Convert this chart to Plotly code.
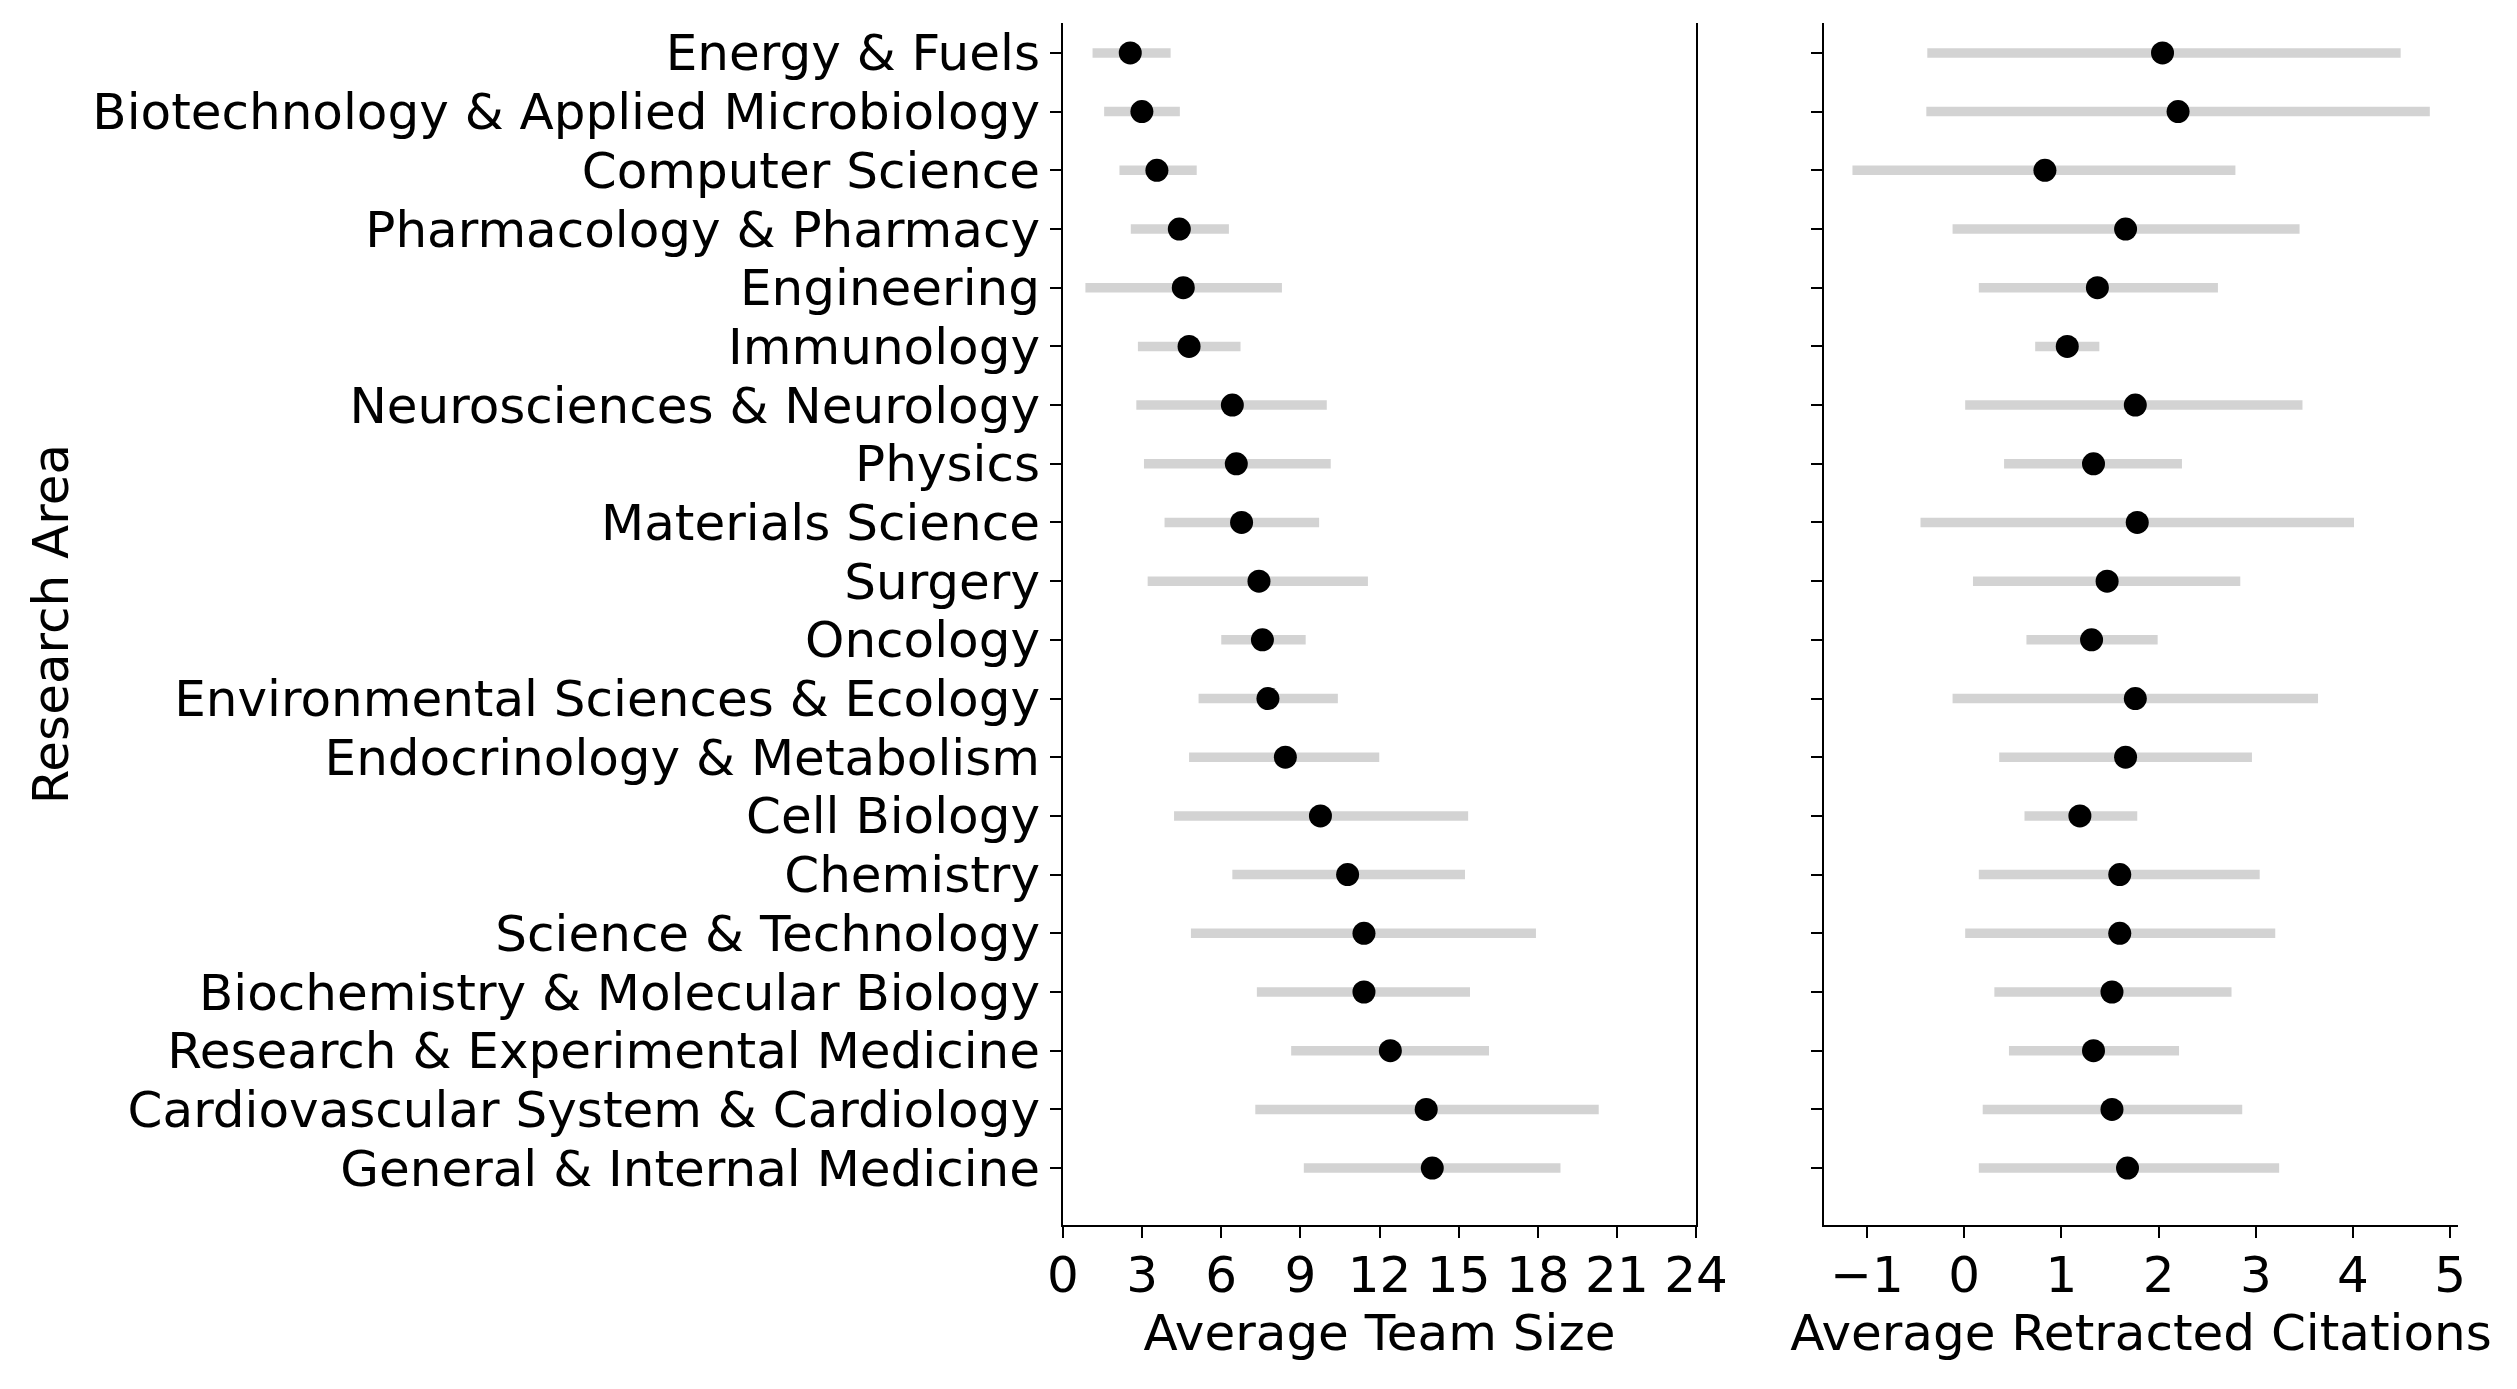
import plotly.graph_objects as go

# research areas, top to bottom
areas = [
    "Energy & Fuels",
    "Biotechnology & Applied Microbiology",
    "Computer Science",
    "Pharmacology & Pharmacy",
    "Engineering",
    "Immunology",
    "Neurosciences & Neurology",
    "Physics",
    "Materials Science",
    "Surgery",
    "Oncology",
    "Environmental Sciences & Ecology",
    "Endocrinology & Metabolism",
    "Cell Biology",
    "Chemistry",
    "Science & Technology",
    "Biochemistry & Molecular Biology",
    "Research & Experimental Medicine",
    "Cardiovascular System & Cardiology",
    "General & Internal Medicine",
]

# average team size with interval
team_mean = [2.55, 2.99, 3.56, 4.41, 4.56, 4.78, 6.42, 6.57, 6.77, 7.43,
             7.56, 7.77, 8.43, 9.76, 10.79, 11.41, 11.41, 12.41, 13.77, 14.0]
team_lo = [1.12, 1.56, 2.14, 2.57, 0.85, 2.84, 2.78, 3.07, 3.85, 3.21,
           6.0, 5.14, 4.78, 4.21, 6.42, 4.85, 7.35, 8.65, 7.29, 9.13]
team_hi = [4.08, 4.43, 5.07, 6.29, 8.30, 6.73, 10.0, 10.15, 9.71, 11.56,
           9.2, 10.42, 11.99, 15.36, 15.24, 17.93, 15.43, 16.15, 20.31, 18.86]

# average retracted citations with interval
cit_mean = [2.04, 2.20, 0.83, 1.66, 1.37, 1.06, 1.76, 1.33, 1.78, 1.47,
            1.31, 1.76, 1.66, 1.19, 1.60, 1.60, 1.52, 1.33, 1.52, 1.68]
cit_lo = [-0.38, -0.39, -1.15, -0.12, 0.15, 0.73, 0.01, 0.41, -0.45, 0.09,
          0.64, -0.12, 0.36, 0.62, 0.15, 0.01, 0.31, 0.46, 0.19, 0.15]
cit_hi = [4.49, 4.79, 2.79, 3.45, 2.61, 1.39, 3.48, 2.24, 4.01, 2.84,
          1.99, 3.64, 2.96, 1.78, 3.04, 3.20, 2.75, 2.21, 2.86, 3.24]

team_ticks = [0, 3, 6, 9, 12, 15, 18, 21, 24]
cit_ticks = [-1, 0, 1, 2, 3, 4, 5]

font = dict(family="DejaVu Sans", size=50, color="black")
bar_color = "#d3d3d3"


def segments(lo, hi):
    xs, ys = [], []
    for a, l, h in zip(areas, lo, hi):
        xs += [l, h, None]
        ys += [a, a, None]
    return xs, ys


fig = go.Figure()

for mean, lo, hi, xa, ya in [(team_mean, team_lo, team_hi, "x", "y"),
                             (cit_mean, cit_lo, cit_hi, "x2", "y2")]:
    xs, ys = segments(lo, hi)
    fig.add_trace(go.Scatter(
        x=xs, y=ys, mode="lines", xaxis=xa, yaxis=ya,
        line=dict(color=bar_color, width=9.5), hoverinfo="skip",
    ))
    fig.add_trace(go.Scatter(
        x=mean, y=areas, mode="markers", xaxis=xa, yaxis=ya,
        marker=dict(color="black", size=23, line=dict(width=0)),
    ))

axis_style = dict(
    showgrid=False, zeroline=False, showline=True, linecolor="black",
    linewidth=2, ticks="outside", ticklen=11, tickwidth=2,
    tickcolor="black", tickfont=font,
)

fig.update_layout(
    width=2517, height=1389,
    margin=dict(l=1063, r=59, t=23, b=164),
    plot_bgcolor="white", paper_bgcolor="white",
    showlegend=False, font=font,
    xaxis=dict(domain=[0, 0.4538], range=[0, 24], tickvals=team_ticks,
               ticklabelstandoff=-6,
               title=dict(text="Average Team Size", font=font, standoff=5),
               **axis_style),
    xaxis2=dict(domain=[0.5455, 1], range=[-1.443, 5.08], tickvals=cit_ticks,
                anchor="y2", ticklabelstandoff=-6,
                title=dict(text="Average Retracted Citations", font=font, standoff=5),
                **axis_style),
    yaxis=dict(categoryorder="array", categoryarray=areas,
               tickmode="array", tickvals=areas, ticktext=areas,
               range=[19.97, -0.51], mirror=True,
               title=dict(text="Research Area", font=font, standoff=8),
               **axis_style),
    yaxis2=dict(categoryorder="array", categoryarray=areas,
                tickmode="array", tickvals=areas,
                range=[19.97, -0.51], anchor="x2", matches="y",
                showticklabels=False, **axis_style),
)

# no page margin, so the figure sits at the window's top-left corner
fig.write_html("out.html", config={"displayModeBar": False},
               post_script="document.body.style.margin = '0';")
